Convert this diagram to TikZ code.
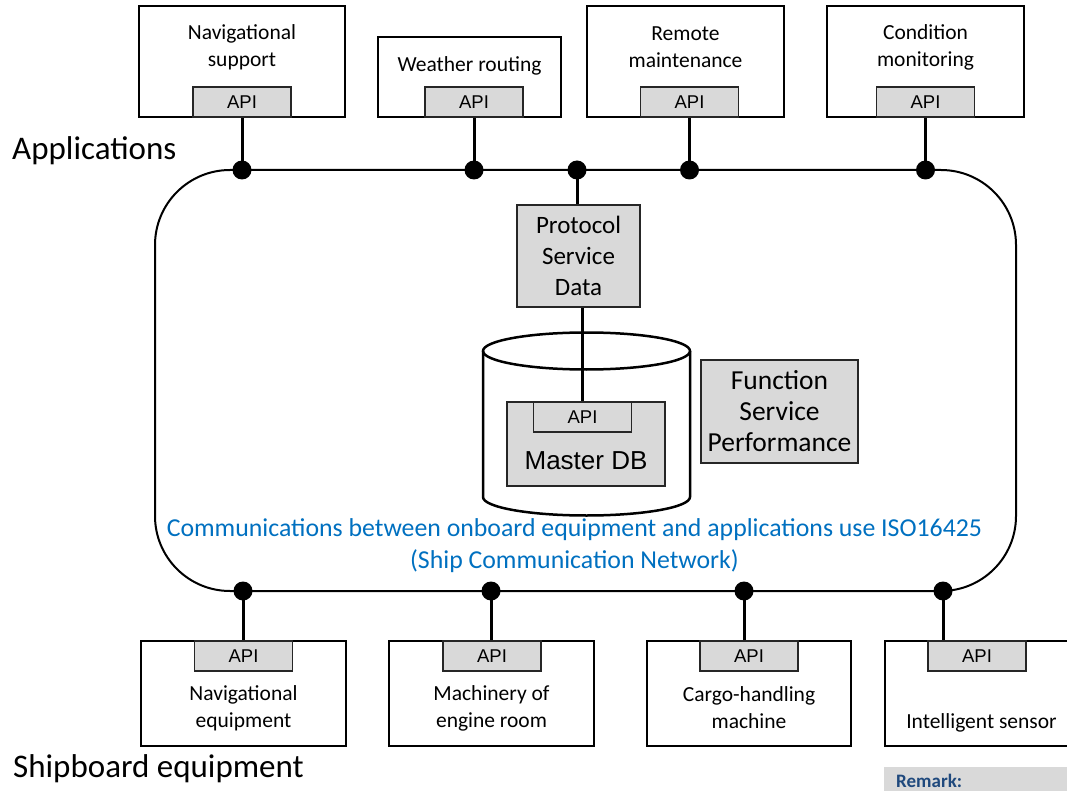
\documentclass[tikz,border=0pt]{standalone}
\usepackage{fontspec}
\setmainfont{Carlito}
\newfontfamily\arialfont{Liberation Sans}
\definecolor{apigray}{RGB}{217,217,217}
\definecolor{noteblue}{RGB}{0,112,192}
\definecolor{remarkblue}{RGB}{31,73,125}

\begin{document}
\begin{tikzpicture}[x=1pt,y=-1pt,
  box/.style={draw=black,line width=1.4pt,fill=white,inner sep=0pt},
  graybox/.style={draw=black!85,line width=1.4pt,fill=apigray,inner sep=0pt},
  api/.style={graybox,minimum width=98pt,minimum height=30pt,
    font=\arialfont\fontsize{18.5}{21}\selectfont},
  lbl/.style={align=center,inner sep=0pt,font=\fontsize{21.5}{27}\selectfont},
  biglbl/.style={align=center,inner sep=0pt,font=\fontsize{25}{31}\selectfont},
  dot/.style={circle,fill=black,minimum size=19pt,inner sep=0pt},
  link/.style={line width=3pt},
  bus/.style={line width=2pt},
  title/.style={anchor=base west,inner sep=0pt,font=\fontsize{33}{40}\selectfont}]
\useasboundingbox (0,0) rectangle (1067,791);

% ---- network bus ----
\draw[bus,rounded corners=75pt] (155,170) rectangle (1016,591);

% ---- applications (top) ----
\node[box,minimum width=206pt,minimum height=111pt] (navsup) at (242,61.5) {};
\node[lbl] (navsupt) at (242,47) {Navigational\\support};
\node[api] (navsupapi) at (242,102) {API};

\node[box,minimum width=183pt,minimum height=80pt] (weather) at (469.5,77) {};
\node[lbl] (weathert) at (469.5,66) {Weather routing};
\node[api] (weatherapi) at (474,102) {API};

\node[box,minimum width=197pt,minimum height=111pt] (remote) at (685.5,61.5) {};
\node[lbl] (remotet) at (685.5,47) {Remote\\maintenance};
\node[api] (remoteapi) at (689.5,102) {API};

\node[box,minimum width=197pt,minimum height=111pt] (cond) at (925.5,61.5) {};
\node[lbl] (condt) at (925.5,47) {Condition\\monitoring};
\node[api] (condapi) at (925.5,102) {API};

% ---- protocol / function blocks ----
\node[graybox,biglbl,minimum width=123pt,minimum height=102pt]
  (proto) at (578.5,256) {Protocol\\Service\\Data};
\node[graybox,biglbl,font=\fontsize{27.5}{31}\selectfont,minimum width=157pt,minimum height=103pt]
  (func) at (779.5,411.5) {Function\\Service\\Performance};

% ---- master database cylinder ----
\coordinate (dbtop) at (586.5,351);
\filldraw[line width=2.5pt,fill=white]
  (483,351) -- (483,497) arc[start angle=180,end angle=360,x radius=103.5pt,y radius=18.5pt]
  -- (690,351);
\draw[line width=2.5pt] (dbtop) ellipse[x radius=103.5pt,y radius=18.5pt];
\node[graybox,minimum width=158pt,minimum height=84pt] (mdb) at (586,444) {};
\node[api] (mdbapi) at (582.5,417) {API};
\node[inner sep=0pt,font=\arialfont\fontsize{26}{30}\selectfont] (mdbt) at (586,461) {Master DB};

% ---- note text ----
\node[align=center,inner sep=0pt,text=noteblue,font=\fontsize{25.8}{32}\selectfont] (note) at (574.5,546)
  {Communications between onboard equipment and applications use ISO16425\\(Ship Communication Network)};

% ---- shipboard equipment (bottom) ----
\node[box,minimum width=205pt,minimum height=105pt] (naveq) at (243.5,693.5) {};
\node[lbl] (naveqt) at (243.5,708) {Navigational\\equipment};
\node[api] (naveqapi) at (243.5,656) {API};

\node[box,minimum width=205pt,minimum height=105pt] (mach) at (491.5,693.5) {};
\node[lbl] (macht) at (491.5,708) {Machinery of\\engine room};
\node[api] (machapi) at (492,656) {API};

\node[box,minimum width=204pt,minimum height=105pt] (cargo) at (749,693.5) {};
\node[lbl] (cargot) at (749,708) {Cargo-handling\\machine};
\node[api] (cargoapi) at (749,656) {API};

\node[box,minimum width=205pt,minimum height=105pt] (sensor) at (987.5,693.5) {};
\node[lbl] (sensort) at (981.5,723) {Intelligent sensor};
\node[api] (sensorapi) at (977,656) {API};

% ---- taps on the bus and their connectors ----
\coordinate (tapA) at (242,170);
\coordinate (tapB) at (474,170);
\coordinate (tapC) at (577,170);
\coordinate (tapD) at (689.5,170);
\coordinate (tapE) at (925.5,170);
\coordinate (tapF) at (243,591);
\coordinate (tapG) at (491,591);
\coordinate (tapH) at (744,591);
\coordinate (tapI) at (943,591);

\draw[link] (tapA) -- (navsupapi.south);
\draw[link] (tapB) -- (weatherapi.south);
\draw[link] (tapC) -- (tapC |- proto.north);
\draw[link] (mdbapi.north |- proto.south) -- (mdbapi.north);
\draw[link] (tapD) -- (remoteapi.south);
\draw[link] (tapE) -- (condapi.south);
\draw[link] (tapF) -- (tapF |- naveqapi.north);
\draw[link] (tapG) -- (tapG |- machapi.north);
\draw[link] (tapH) -- (tapH |- cargoapi.north);
\draw[link] (tapI) -- (tapI |- sensorapi.north);

\foreach \t in {A,B,C,D,E,F,G,H,I}
  \node[dot] (dot\t) at (tap\t) {};

% ---- section titles ----
\node[title] (apps) at (12,160) {Applications};
\node[title] (ship) at (13,777) {Shipboard equipment};

% ---- remark bar ----
\node[fill=apigray,anchor=north west,minimum width=200pt,minimum height=26pt,inner sep=0pt] (remark) at (884,767) {};
\node[anchor=west,inner sep=0pt,text=remarkblue,font=\bfseries\fontsize{19}{22}\selectfont] (remarkt) at (896,781) {Remark:};
\end{tikzpicture}
\end{document}
